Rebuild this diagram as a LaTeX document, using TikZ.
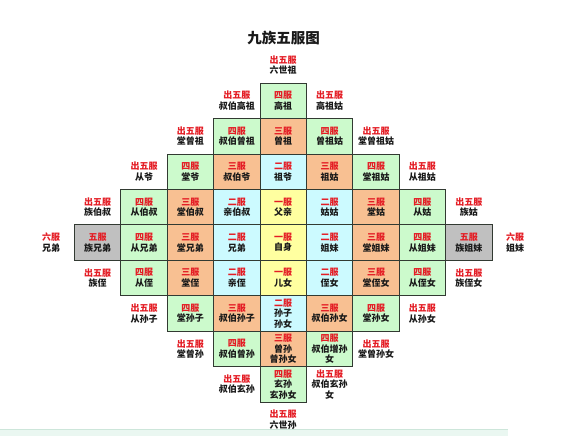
\documentclass[tikz,border=0pt]{standalone}
\usepackage{fontspec}
\newfontfamily\cjk{Noto Sans CJK SC}
\definecolor{fured}{RGB}{228,28,36}
\definecolor{futxt}{RGB}{25,25,25}
\definecolor{fgreen}{RGB}{204,250,204}
\definecolor{forange}{RGB}{248,192,146}
\definecolor{fblue}{RGB}{204,250,255}
\definecolor{fyellow}{RGB}{255,255,160}
\definecolor{fgray}{RGB}{192,192,192}
\definecolor{fline}{RGB}{50,58,50}
\definecolor{fband}{RGB}{234,247,241}
\definecolor{fbandline}{RGB}{205,230,218}
\newcommand\fucell[6]{\node[#1] (#2) at (#3,#4) {\textcolor{fured}{#5}\\#6};}
\begin{document}
\begin{tikzpicture}[x=46.4pt, y=-35.45pt,
  txt/.style={align=center, inner sep=0pt, text=futxt,
    font=\cjk\bfseries\fontsize{9}{10.5}\selectfont},
  cellbox/.style={txt, draw=fline, line width=0.7pt,
    minimum width=46.4pt, minimum height=35.45pt},
  lbl/.style={txt},
  gc/.style={cellbox, fill=fgreen},
  oc/.style={cellbox, fill=forange},
  bc/.style={cellbox, fill=fblue},
  yc/.style={cellbox, fill=fyellow},
  kc/.style={cellbox, fill=fgray}]
\useasboundingbox (0pt,0pt) rectangle (580pt,-436pt);
\fill[white] (0pt,0pt) rectangle (580pt,-436pt);
\fill[fband] (0pt,-429.5pt) rectangle (508pt,-436pt);
\draw[fbandline, line width=0.6pt] (0pt,-429.5pt) -- (508pt,-429.5pt);
\node[txt, font=\cjk\bfseries\fontsize{14.5}{16}\selectfont] (title) at (283.5pt,-38pt) {九族五服图};
\begin{scope}[shift={(283.2pt,-100.7pt)}]
% row -1
\fucell{lbl}{n0m1}{0}{-1}{出五服}{六世祖}
% row 0
\fucell{lbl}{nm1r0}{-1}{0}{出五服}{叔伯高祖}
\fucell{gc}{n0r0}{0}{0}{四服}{高祖}
\fucell{lbl}{n1r0}{1}{0}{出五服}{高祖姑}
% row 1
\fucell{lbl}{nm2r1}{-2}{1}{出五服}{堂曾祖}
\fucell{gc}{nm1r1}{-1}{1}{四服}{叔伯曾祖}
\fucell{oc}{n0r1}{0}{1}{三服}{曾祖}
\fucell{gc}{n1r1}{1}{1}{四服}{曾祖姑}
\fucell{lbl}{n2r1}{2}{1}{出五服}{堂曾祖姑}
% row 2
\fucell{lbl}{nm3r2}{-3}{2}{出五服}{从爷}
\fucell{gc}{nm2r2}{-2}{2}{四服}{堂爷}
\fucell{oc}{nm1r2}{-1}{2}{三服}{叔伯爷}
\fucell{bc}{n0r2}{0}{2}{二服}{祖爷}
\fucell{oc}{n1r2}{1}{2}{三服}{祖姑}
\fucell{gc}{n2r2}{2}{2}{四服}{堂祖姑}
\fucell{lbl}{n3r2}{3}{2}{出五服}{从祖姑}
% row 3
\fucell{lbl}{nm4r3}{-4}{3}{出五服}{族伯叔}
\fucell{gc}{nm3r3}{-3}{3}{四服}{从伯叔}
\fucell{oc}{nm2r3}{-2}{3}{三服}{堂伯叔}
\fucell{bc}{nm1r3}{-1}{3}{二服}{亲伯叔}
\fucell{yc}{n0r3}{0}{3}{一服}{父亲}
\fucell{bc}{n1r3}{1}{3}{二服}{姑姑}
\fucell{oc}{n2r3}{2}{3}{三服}{堂姑}
\fucell{gc}{n3r3}{3}{3}{四服}{从姑}
\fucell{lbl}{n4r3}{4}{3}{出五服}{族姑}
% row 4
\fucell{lbl}{nm5r4}{-5}{4}{六服}{兄弟}
\fucell{kc}{nm4r4}{-4}{4}{五服}{族兄弟}
\fucell{gc}{nm3r4}{-3}{4}{四服}{从兄弟}
\fucell{oc}{nm2r4}{-2}{4}{三服}{堂兄弟}
\fucell{bc}{nm1r4}{-1}{4}{二服}{兄弟}
\fucell{yc}{n0r4}{0}{4}{一服}{自身}
\fucell{bc}{n1r4}{1}{4}{二服}{姐妹}
\fucell{oc}{n2r4}{2}{4}{三服}{堂姐妹}
\fucell{gc}{n3r4}{3}{4}{四服}{从姐妹}
\fucell{kc}{n4r4}{4}{4}{五服}{族姐妹}
\fucell{lbl}{n5r4}{5}{4}{六服}{姐妹}
% row 5
\fucell{lbl}{nm4r5}{-4}{5}{出五服}{族侄}
\fucell{gc}{nm3r5}{-3}{5}{四服}{从侄}
\fucell{oc}{nm2r5}{-2}{5}{三服}{堂侄}
\fucell{bc}{nm1r5}{-1}{5}{二服}{亲侄}
\fucell{yc}{n0r5}{0}{5}{一服}{儿女}
\fucell{bc}{n1r5}{1}{5}{二服}{侄女}
\fucell{oc}{n2r5}{2}{5}{三服}{堂侄女}
\fucell{gc}{n3r5}{3}{5}{四服}{从侄女}
\fucell{lbl}{n4r5}{4}{5}{出五服}{族侄女}
% row 6
\fucell{lbl}{nm3r6}{-3}{6}{出五服}{从孙子}
\fucell{gc}{nm2r6}{-2}{6}{四服}{堂孙子}
\fucell{oc}{nm1r6}{-1}{6}{三服}{叔伯孙子}
\fucell{bc}{n0r6}{0}{6}{二服}{孙子\\孙女}
\fucell{oc}{n1r6}{1}{6}{三服}{叔伯孙女}
\fucell{gc}{n2r6}{2}{6}{四服}{堂孙女}
\fucell{lbl}{n3r6}{3}{6}{出五服}{从孙女}
% row 7
\fucell{lbl}{nm2r7}{-2}{7}{出五服}{堂曾孙}
\fucell{gc}{nm1r7}{-1}{7}{四服}{叔伯曾孙}
\fucell{oc}{n0r7}{0}{7}{三服}{曾孙\\曾孙女}
\fucell{gc}{n1r7}{1}{7}{四服}{叔伯增孙\\女}
\fucell{lbl}{n2r7}{2}{7}{出五服}{堂曾孙女}
% row 8
\fucell{lbl}{nm1r8}{-1}{8}{出五服}{叔伯玄孙}
\fucell{gc}{n0r8}{0}{8}{四服}{玄孙\\玄孙女}
\fucell{lbl}{n1r8}{1}{8}{出五服}{叔伯玄孙\\女}
% row 9
\fucell{lbl}{n0r9}{0}{9}{出五服}{六世孙}
\end{scope}
\end{tikzpicture}
\end{document}
